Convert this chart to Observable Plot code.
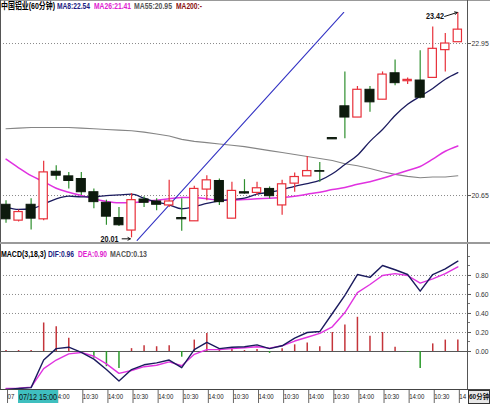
<!DOCTYPE html>
<html><head><meta charset="utf-8">
<script src="https://cdn.jsdelivr.net/npm/d3@7"></script>
<script src="https://cdn.jsdelivr.net/npm/@observablehq/plot@0.6"></script>
<style>
html,body{margin:0;padding:0;background:#fff;}
#wrap{position:relative;width:490px;height:404px;overflow:hidden;background:#fff;font-family:"Liberation Sans",Arial,"Noto Sans CJK SC",sans-serif;}
#wrap svg{position:absolute;left:0;}
.ln{position:absolute;}
.lbl{position:absolute;font-size:9px;font-weight:bold;line-height:10px;white-space:nowrap;transform-origin:0 0;}
</style></head>
<body><div id="wrap"></div>
<script>
// ---------- data ----------
const open  = [20.51,20.27,20.51,20.29,21.01,20.94,20.90,20.70,20.54,20.31,20.12,20.59,20.56,20.50,20.31,20.26,20.74,20.87,20.30,20.70,20.69,20.75,20.50,20.83,20.94,21.02,21.52,22.00,21.83,22.25,22.10,22.50,22.38,22.39,22.43,22.85,22.97];
const close = [20.29,20.40,20.30,21.00,20.95,20.87,20.70,20.55,20.33,20.20,20.58,20.54,20.51,20.56,20.29,20.75,20.88,20.55,20.72,20.68,20.76,20.64,20.82,20.93,21.02,21.01,21.50,21.83,22.25,22.06,22.48,22.35,22.40,22.13,22.87,22.95,23.16];
const high  = [20.57,20.43,20.60,21.17,21.10,21.00,21.00,20.75,20.58,20.47,20.68,20.63,20.60,20.88,20.60,20.79,20.95,20.90,20.85,20.89,20.85,20.78,20.88,20.99,21.24,21.15,21.52,22.52,22.30,22.30,22.52,22.70,22.43,22.84,23.20,23.10,23.42];
const low   = [20.23,20.25,20.13,20.27,20.88,20.75,20.65,20.45,20.20,20.18,20.01,20.47,20.42,20.47,20.11,20.26,20.57,20.50,20.30,20.67,20.65,20.60,20.35,20.70,20.94,20.85,21.50,21.51,21.83,21.91,22.10,22.31,22.33,22.11,22.43,22.52,22.97];
const ma8   = [20.48,20.44,20.45,20.52,20.60,20.64,20.63,20.63,20.65,20.66,20.67,20.61,20.55,20.51,20.45,20.48,20.53,20.57,20.59,20.61,20.67,20.70,20.74,20.79,20.83,20.88,20.98,21.12,21.26,21.47,21.65,21.86,22.03,22.15,22.27,22.41,22.51];
const ma26  = [21.20,21.07,20.95,20.86,20.76,20.70,20.65,20.60,20.56,20.54,20.54,20.56,20.58,20.60,20.62,20.62,20.60,20.58,20.58,20.59,20.60,20.61,20.62,20.64,20.67,20.70,20.74,20.77,20.82,20.86,20.91,20.97,21.03,21.09,21.20,21.32,21.40];
const ma55  = [21.66,21.67,21.68,21.68,21.68,21.68,21.67,21.66,21.65,21.64,21.63,21.61,21.58,21.55,21.50,21.47,21.45,21.43,21.41,21.39,21.36,21.33,21.30,21.27,21.24,21.21,21.18,21.13,21.10,21.06,21.01,20.97,20.94,20.92,20.93,20.93,20.95];
const trendBar   = [10.45, 26.91];
const trendPrice = [19.97, 23.42];
const dif  = [-0.40,-0.39,-0.38,-0.09,0.03,0.045,-0.01,-0.08,-0.19,-0.31,-0.19,-0.14,-0.12,-0.09,-0.17,0.02,0.095,0.03,0.045,0.05,0.07,0.03,0.06,0.14,0.20,0.21,0.40,0.59,0.81,0.78,0.905,0.86,0.81,0.635,0.81,0.87,0.95];
const dea  = [-0.39,-0.385,-0.375,-0.18,-0.09,-0.025,-0.01,-0.05,-0.13,-0.23,-0.20,-0.16,-0.145,-0.11,-0.15,-0.03,0.02,0.02,0.03,0.04,0.05,0.035,0.06,0.11,0.15,0.19,0.26,0.41,0.62,0.705,0.80,0.82,0.80,0.72,0.765,0.82,0.89];
const hist = [0.01,0.01,0.01,0.30,0.26,0.14,-0.01,-0.07,-0.16,-0.18,0.03,0.06,0.05,0.06,-0.06,0.12,0.19,0.01,0.02,0.01,0.02,-0.02,0.03,0.07,0.09,0.05,0.20,0.28,0.36,0.16,0.20,0.045,-0.01,-0.18,0.08,0.12,0.12];
const priceTicks = [20.65, 22.95];
const macdTicks  = [0.00, 0.20, 0.40, 0.60, 0.80];
const macdMinor  = [0.10, 0.30, 0.50, 0.70, 0.90, 1.00];
// visible (partly covered) time-axis labels as shown
const timeBars   = [0,4,6,8,10,12,14,16,18,20,22,24,26,28,30,32,34,36];
const timeLabels = ["07","4:00","10:30","14:00","10:30","14:00","10:30","14:00","10:30","14:00","10:30","14:00","10:30","14:00","10:30","14:00","10:30","14"];
const cursorBar = 1, cursorLabel = "07/12 15:00";
const lowMark  = {bar: 10, price: 20.01, text: "20.01"};
const highMark = {bar: 36, price: 23.42, text: "23.42"};
const titleTop  = ["中国铝业(60分钟)", "MA8:22.54", "MA26:21.41", "MA55:20.95", "MA200:-"];
const titleMacd = ["MACD(3,18,3)", "DIF:0.96", "DEA:0.90", "MACD:0.13"];
const periodLabel = "60分钟";

// ---------- build ----------
const RED = "#e8303a", GREEN = "#2f8f2f", DARK = "#0d1a0d", NAVY = "#1b1b5e", MAG = "#e032e0", GRAY = "#858585";
const candles = open.map((o, i) => ({i, open: o, close: close[i], high: high[i], low: low[i]}));
const ups = candles.filter(d => d.close > d.open);
const downs = candles.filter(d => d.close <= d.open);
const lineData = (arr) => arr.map((v, i) => ({i, v}));
const xDom = [-0.44, 36.77];
const labelMap = new Map(timeBars.map((b, k) => [b, timeLabels[k]]));
const font = {fontFamily: '"Liberation Sans", Arial, "Noto Sans CJK SC", sans-serif', fontSize: "9px", background: "transparent", overflow: "visible"};

const topPlot = Plot.plot({
  width: 490, height: 244, marginLeft: 0, marginRight: 23, marginTop: 0, marginBottom: 0,
  x: {domain: xDom, axis: null},
  y: {domain: [19.909, 23.601], axis: null},
  style: font,
  marks: [
    Plot.ruleY(priceTicks, {stroke: "#8a8a8a", strokeDasharray: "1,2"}),
    Plot.axisY(priceTicks, {anchor: "right", tickSize: 3, tickPadding: 1, fontSize: 7.5, tickFormat: d => d.toFixed(2), fill: "#333", stroke: "#555"}),
    Plot.line(lineData(ma55), {x: "i", y: "v", stroke: GRAY, strokeWidth: 1.1}),
    Plot.line(lineData(ma26), {x: "i", y: "v", stroke: MAG, strokeWidth: 1.5, curve: "monotone-x"}),
    Plot.line(lineData(ma8), {x: "i", y: "v", stroke: NAVY, strokeWidth: 1.3, curve: "monotone-x"}),
    Plot.line(trendBar.map((b, k) => ({b, p: trendPrice[k]})), {x: "b", y: "p", stroke: "#3434c4", strokeWidth: 1.1}),
    Plot.ruleX(ups, {x: "i", y1: "low", y2: "high", stroke: RED, strokeWidth: 1.2}),
    Plot.ruleX(downs, {x: "i", y1: "low", y2: "high", stroke: GREEN, strokeWidth: 1.2}),
    Plot.rect(ups, {x1: d => d.i - 0.33, x2: d => d.i + 0.33, y1: "open", y2: "close", fill: "#fff", stroke: RED, strokeWidth: 1.2}),
    Plot.rect(downs, {x1: d => d.i - 0.36, x2: d => d.i + 0.36, y1: "open", y2: "close", fill: DARK, stroke: DARK, strokeWidth: 1}),
    Plot.text([lowMark], {x: "bar", y: "price", text: "text", textAnchor: "end", dx: -13, dy: 1, fontWeight: "bold", fill: "#111"}),
    Plot.arrow([lowMark], {x1: d => d.bar - 0.75, x2: d => d.bar - 0.1, y1: "price", y2: "price", dy: 1, stroke: "#111", strokeWidth: 1, headLength: 4}),
    Plot.text([highMark], {x: d => d.bar - 1.1, y: d => d.price - 0.06, text: "text", textAnchor: "end", fontWeight: "bold", fill: "#111"}),
    Plot.arrow([highMark], {x1: d => d.bar - 1.05, x2: d => d.bar - 0.05, y1: d => d.price - 0.06, y2: "price", stroke: "#111", strokeWidth: 1, headLength: 4})
  ]
});

const macdPlot = Plot.plot({
  width: 490, height: 160, marginLeft: 0, marginRight: 23, marginTop: 0, marginBottom: 15,
  x: {domain: xDom, axis: null},
  y: {domain: [-0.4, 1.126], axis: null},
  style: font,
  marks: [
    Plot.ruleY(macdTicks.filter(d => d > 0), {stroke: "#8a8a8a", strokeDasharray: "1,2"}),
    Plot.ruleY([0], {stroke: "#555", strokeWidth: 1}),
    Plot.axisY(macdTicks, {anchor: "right", tickSize: 3, tickPadding: 5, fontSize: 7.5, tickFormat: d => d.toFixed(2), fill: "#333", stroke: "#555"}),
    Plot.ruleX(hist.map((h, i) => ({i, h})).filter(d => d.h >= 0), {x: "i", y1: 0, y2: "h", stroke: "#c4343a", strokeWidth: 1.5}),
    Plot.ruleX(hist.map((h, i) => ({i, h})).filter(d => d.h < 0), {x: "i", y1: 0, y2: "h", stroke: "#2a9a2a", strokeWidth: 1.5}),
    Plot.line(lineData(dea), {x: "i", y: "v", stroke: MAG, strokeWidth: 1.4, clip: true}),
    Plot.line(lineData(dif), {x: "i", y: "v", stroke: NAVY, strokeWidth: 1.4, clip: true}),
    Plot.axisX(timeBars, {anchor: "bottom", tickSize: 14, tickPadding: -10, fontSize: 8, tickFormat: d => labelMap.get(d), textAnchor: "start", dx: 1.5, fill: "#222", stroke: "#666"})
  ]
});

const wrap = document.getElementById("wrap");
topPlot.style.top = "0px";
macdPlot.style.top = "244px";
wrap.appendChild(topPlot);
wrap.appendChild(macdPlot);

function condense(svg, sel, f) {
  svg.querySelectorAll(sel).forEach(t => {
    const L = t.getComputedTextLength();
    if (L > 0) { t.setAttribute("textLength", (L * f).toFixed(1)); t.setAttribute("lengthAdjust", "spacingAndGlyphs"); }
  });
}
condense(topPlot, 'g[aria-label="y-axis tick label"] text', 0.92);
condense(topPlot, 'g[aria-label="text"] text', 0.8);
condense(macdPlot, 'g[aria-label="y-axis tick label"] text', 0.9);
condense(macdPlot, 'g[aria-label="x-axis tick label"] text', 0.76);

// chrome lines
function line(l, t, w, h, c) { const d = document.createElement("div"); d.className = "ln"; Object.assign(d.style, {left: l + "px", top: t + "px", width: w + "px", height: h + "px", background: c}); wrap.appendChild(d); return d; }
line(0, 0, 490, 1, "#999");
line(0, 0, 1, 390, "#555");
line(467, 0, 1, 390, "#555");
line(0, 242, 490, 2, "#9a9a9a");
line(0, 389, 490, 1, "#444");
// minor ticks just right of the axis line
const ys = macdPlot.scale("y");
for (const v of macdMinor) line(468, Math.round(244 + ys.apply(v)), 2, 1, "#777");

// cursor highlight on time axis
const xs = macdPlot.scale("x");
const cx = xs.apply(cursorBar);
line(cx, 390, 40, 13, "#3fbfbf");
const hlt = document.createElement("div"); hlt.className = "lbl"; hlt.textContent = cursorLabel;
Object.assign(hlt.style, {left: (cx + 1) + "px", top: "392px", fontWeight: "normal", color: "#111"});
wrap.appendChild(hlt);
const pbox = line(468, 390, 22, 14, "#e8e8e8");
pbox.style.border = "1px solid #333"; pbox.style.boxSizing = "border-box";
const pl = document.createElement("div"); pl.className = "lbl"; pl.textContent = periodLabel;
Object.assign(pl.style, {left: "469px", top: "393px", fontSize: "6.5px", lineHeight: "8px", color: "#111"});
wrap.appendChild(pl);

function fit(el, w) { const a = el.getBoundingClientRect().width; if (a > 0) el.style.transform = `scaleX(${w / a})`; }
fit(hlt, 38);

// titles
const topLay = [[1, 54, "#000"], [57, 33, "#1c1c82"], [94, 37, "#e020d0"], [134, 38, "#555"], [176, 26, "#8b1010"]];
titleTop.forEach((t, k) => {
  const s = document.createElement("div"); s.className = "lbl"; s.textContent = t;
  Object.assign(s.style, {left: topLay[k][0] + "px", top: "1px", color: topLay[k][2]});
  wrap.appendChild(s); fit(s, topLay[k][1]);
});
const macdLay = [[1, 45, "#000"], [48, 26, "#1c1c82"], [78, 29, "#e020d0"], [110, 37, "#555"]];
titleMacd.forEach((t, k) => {
  const s = document.createElement("div"); s.className = "lbl"; s.textContent = t;
  Object.assign(s.style, {left: macdLay[k][0] + "px", top: "249px", color: macdLay[k][2]});
  wrap.appendChild(s); fit(s, macdLay[k][1]);
});
</script></body></html>
